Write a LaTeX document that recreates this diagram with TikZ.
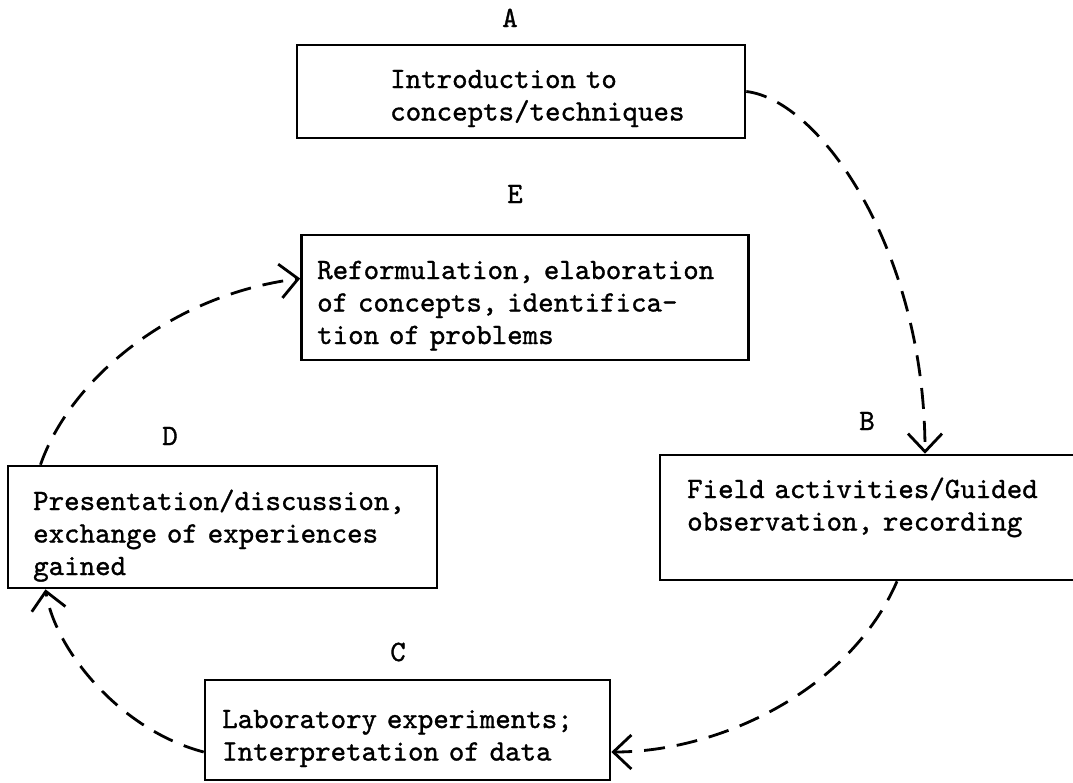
\documentclass[tikz,border=0pt]{standalone}
\usepackage{fontspec}
\setmonofont{lmmono10-regular.otf}[FakeBold=1.1]
\usetikzlibrary{arrows.meta}
\begin{document}
\begin{tikzpicture}[x=1pt,y=-1pt,
  box/.style={draw, line width=2.6pt, inner sep=0pt, rectangle},
  txt/.style={anchor=base west, inner sep=0pt, text width=440pt, align=left, font=\ttfamily\fontsize{29.5}{32.5}\selectfont},
  lbl/.style={anchor=base, inner sep=0pt, font=\ttfamily\fontsize{29.5}{32}\selectfont},
  flow/.style={line width=2.8pt, dash pattern=on 21pt off 12pt, -{Straight Barb[length=18pt,width=34pt,line width=2.8pt]}}]
\useasboundingbox (0,0) rectangle (1073,782);
\clip (0,0) rectangle (1073,782);
\fill[white] (0,0) rectangle (1073,782);

% boxes
\node[box, minimum width=448pt, minimum height=93pt] (A) at (521,91.5) {};
\node[box, minimum width=447pt, minimum height=125pt] (E) at (525,297.5) {};
\node[box, minimum width=429pt, minimum height=122pt] (D) at (222.5,527) {};
\node[box, minimum width=405pt, minimum height=100pt] (C) at (407.5,730) {};
\node[box, minimum width=440pt, minimum height=125pt] (B) at (880,517.5) {};

% texts
\node[txt] (tA) at (390,88) {Introduction to\\concepts/techniques};
\node[txt] (tE) at (317,279) {Reformulation, elaboration\\of concepts, identifica-\\tion of problems};
\node[txt] (tD) at (33,510) {Presentation/discussion,\\exchange of experiences\\gained};
\node[txt] (tC) at (222,728) {Laboratory experiments;\\Interpretation of data};
\node[txt] (tB) at (687,498) {Field activities/Guided\\observation, recording};

% labels
\node[lbl] (lA) at (510,27) {A};
\node[lbl] (lE) at (515,203) {E};
\node[lbl] (lD) at (170,445) {D};
\node[lbl] (lC) at (398,661) {C};
\node[lbl] (lB) at (867,430) {B};

% connectors
\draw[flow] (A.east) .. controls (820,100) and (925,250) .. ([xshift=45pt]B.north);
\draw[flow] ([xshift=17pt]B.south) .. controls (850,690) and (720,752) .. ([yshift=-22pt]C.east);
\draw[flow] ([yshift=-22pt]C.west) .. controls (120,730) and (55,650) .. ([xshift=-177pt]D.south);
\draw[flow] ([xshift=-182pt]D.north) .. controls (70,380) and (170,295) .. ([yshift=19pt]E.west);
\end{tikzpicture}
\end{document}
